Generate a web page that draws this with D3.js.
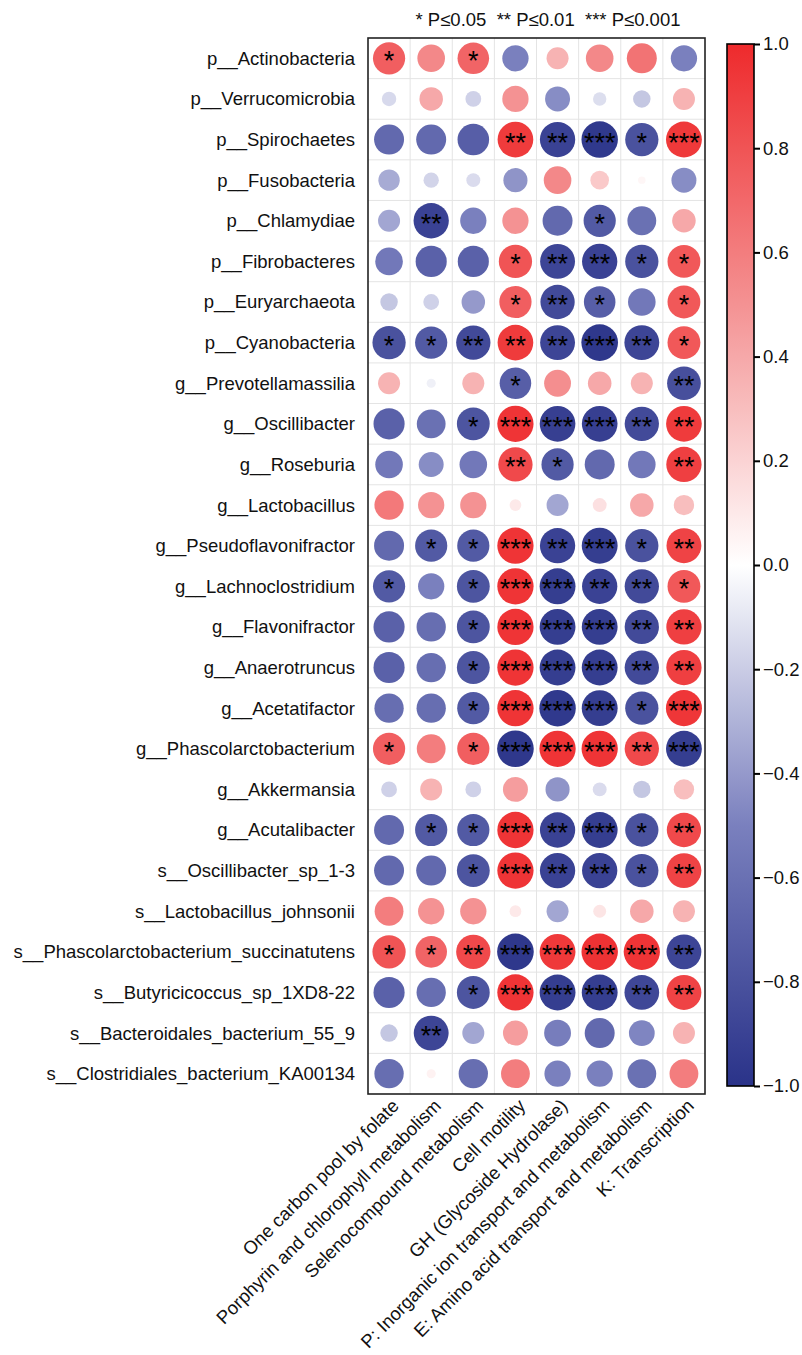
<!DOCTYPE html>
<html>
<head>
<meta charset="utf-8">
<script src="https://cdn.jsdelivr.net/npm/d3@7"></script>
<style>
  html, body { margin: 0; padding: 0; background: #fff; }
  svg { display: block; font-family: "Liberation Sans", Arial, Helvetica, sans-serif; }
</style>
</head>
<body>
<svg id="chart" width="802" height="1355"></svg>
<script>
// Functional pathways (columns)
const pathways = [
  "One carbon pool by folate",
  "Porphyrin and chlorophyll metabolism",
  "Selenocompound metabolism",
  "Cell motility",
  "GH (Glycoside Hydrolase)",
  "P: Inorganic ion transport and metabolism",
  "E: Amino acid transport and metabolism",
  "K: Transcription"
];

// Taxa (rows)
const taxa = [
  "p__Actinobacteria",
  "p__Verrucomicrobia",
  "p__Spirochaetes",
  "p__Fusobacteria",
  "p__Chlamydiae",
  "p__Fibrobacteres",
  "p__Euryarchaeota",
  "p__Cyanobacteria",
  "g__Prevotellamassilia",
  "g__Oscillibacter",
  "g__Roseburia",
  "g__Lactobacillus",
  "g__Pseudoflavonifractor",
  "g__Lachnoclostridium",
  "g__Flavonifractor",
  "g__Anaerotruncus",
  "g__Acetatifactor",
  "g__Phascolarctobacterium",
  "g__Akkermansia",
  "g__Acutalibacter",
  "s__Oscillibacter_sp_1-3",
  "s__Lactobacillus_johnsonii",
  "s__Phascolarctobacterium_succinatutens",
  "s__Butyricicoccus_sp_1XD8-22",
  "s__Bacteroidales_bacterium_55_9",
  "s__Clostridiales_bacterium_KA00134"
];

// Correlation coefficients, one row per taxon, one value per pathway
const correlations = [
  [ 0.75,  0.55,  0.72, -0.50,  0.35,  0.55,  0.65, -0.50],
  [-0.15,  0.40, -0.18,  0.50, -0.45, -0.13, -0.22,  0.35],
  [-0.65, -0.65, -0.72,  0.92, -0.90, -0.96, -0.80,  0.93],
  [-0.33, -0.17, -0.14, -0.42,  0.55,  0.25,  0.04, -0.45],
  [-0.35, -0.90, -0.50,  0.50, -0.65, -0.75, -0.60,  0.40],
  [-0.55, -0.70, -0.70,  0.80, -0.88, -0.90, -0.80,  0.78],
  [-0.22, -0.18, -0.40,  0.75, -0.85, -0.72, -0.55,  0.78],
  [-0.80, -0.75, -0.85,  0.92, -0.88, -0.97, -0.88,  0.78],
  [ 0.35, -0.06,  0.35, -0.72,  0.52,  0.40,  0.35, -0.82],
  [-0.70, -0.60, -0.78,  0.95, -0.92, -0.92, -0.85,  0.92],
  [-0.55, -0.45, -0.55,  0.85, -0.75, -0.65, -0.55,  0.90],
  [ 0.62,  0.50,  0.50,  0.10, -0.35,  0.14,  0.40,  0.30],
  [-0.65, -0.75, -0.75,  0.95, -0.90, -0.93, -0.80,  0.88],
  [-0.75, -0.50, -0.78,  0.95, -0.93, -0.90, -0.85,  0.78],
  [-0.70, -0.62, -0.78,  0.95, -0.93, -0.93, -0.85,  0.90],
  [-0.70, -0.62, -0.78,  0.95, -0.93, -0.93, -0.85,  0.90],
  [-0.62, -0.62, -0.75,  0.95, -0.96, -0.93, -0.80,  0.94],
  [ 0.75,  0.60,  0.75, -0.97,  0.95,  0.95,  0.85, -0.93],
  [-0.18,  0.35, -0.18,  0.45, -0.42, -0.14, -0.22,  0.30],
  [-0.65, -0.75, -0.75,  0.95, -0.90, -0.93, -0.80,  0.85],
  [-0.65, -0.65, -0.78,  0.95, -0.90, -0.90, -0.80,  0.88],
  [ 0.60,  0.50,  0.50,  0.10, -0.35,  0.12,  0.40,  0.35],
  [ 0.80,  0.72,  0.85, -0.97,  0.93,  0.96,  0.95, -0.88],
  [-0.70, -0.62, -0.78,  0.95, -0.93, -0.93, -0.87,  0.88],
  [-0.22, -0.88, -0.35,  0.45, -0.52, -0.65, -0.48,  0.35],
  [-0.62,  0.06, -0.62,  0.60, -0.50, -0.50, -0.60,  0.60]
];

// Significance marks (* P<=0.05, ** P<=0.01, *** P<=0.001)
const significance = [
  ["*",  "",   "*",  "",    "",    "",    "",   ""   ],
  ["",   "",   "",   "",    "",    "",    "",   ""   ],
  ["",   "",   "",   "**",  "**",  "***", "*",  "***"],
  ["",   "",   "",   "",    "",    "",    "",   ""   ],
  ["",   "**", "",   "",    "",    "*",   "",   ""   ],
  ["",   "",   "",   "*",   "**",  "**",  "*",  "*"  ],
  ["",   "",   "",   "*",   "**",  "*",   "",   "*"  ],
  ["*",  "*",  "**", "**",  "**",  "***", "**", "*"  ],
  ["",   "",   "",   "*",   "",    "",    "",   "**" ],
  ["",   "",   "*",  "***", "***", "***", "**", "**" ],
  ["",   "",   "",   "**",  "*",   "",    "",   "**" ],
  ["",   "",   "",   "",    "",    "",    "",   ""   ],
  ["",   "*",  "*",  "***", "**",  "***", "*",  "**" ],
  ["*",  "",   "*",  "***", "***", "**",  "**", "*"  ],
  ["",   "",   "*",  "***", "***", "***", "**", "**" ],
  ["",   "",   "*",  "***", "***", "***", "**", "**" ],
  ["",   "",   "*",  "***", "***", "***", "*",  "***"],
  ["*",  "",   "*",  "***", "***", "***", "**", "***"],
  ["",   "",   "",   "",    "",    "",    "",   ""   ],
  ["",   "*",  "*",  "***", "**",  "***", "*",  "**" ],
  ["",   "",   "*",  "***", "**",  "**",  "*",  "**" ],
  ["",   "",   "",   "",    "",    "",    "",   ""   ],
  ["*",  "*",  "**", "***", "***", "***", "***","**" ],
  ["",   "",   "*",  "***", "***", "***", "**", "**" ],
  ["",   "**", "",   "",    "",    "",    "",   ""   ],
  ["",   "",   "",   "",    "",    "",    "",   ""   ]
];

const legendText = "* P\u22640.05  ** P\u22640.01  *** P\u22640.001";
const colorbarTicks = [1.0, 0.8, 0.6, 0.4, 0.2, 0.0, -0.2, -0.4, -0.6, -0.8, -1.0];

// ---- layout ----
const svg = d3.select("#chart");
const grid = { left: 368, right: 705, top: 38, bottom: 1094 };
const bar = { left: 727, width: 27, top: 44, bottom: 1086 };

const x = d3.scaleBand().domain(pathways).range([grid.left, grid.right]);
const y = d3.scaleBand().domain(taxa).range([grid.top, grid.bottom]);
// diverging palette: dark blue -> white -> red
const color = d3.scaleLinear()
  .domain([-1, -0.5, 0, 0.5, 1])
  .range(["#2a3389", "#7a80be", "#ffffff", "#f49293", "#ee2a2c"])
  .interpolate(d3.interpolateRgb);
const radius = d3.scaleSqrt().domain([0, 1]).range([0, 18.6]);

// cells
const cells = [];
taxa.forEach((t, i) => pathways.forEach((p, j) => {
  cells.push({ taxon: t, pathway: p, r: correlations[i][j], sig: significance[i][j] });
}));

// grid lines
const gridG = svg.append("g");
gridG.selectAll("line.v").data(pathways.slice(1)).join("line")
  .attr("x1", d => x(d)).attr("x2", d => x(d))
  .attr("y1", grid.top).attr("y2", grid.bottom)
  .attr("stroke", "#e4e4e4").attr("stroke-width", 1);
gridG.selectAll("line.h").data(taxa.slice(1)).join("line")
  .attr("y1", d => y(d)).attr("y2", d => y(d))
  .attr("x1", grid.left).attr("x2", grid.right)
  .attr("stroke", "#e4e4e4").attr("stroke-width", 1);

// circles
svg.append("g").selectAll("circle").data(cells).join("circle")
  .attr("cx", d => x(d.pathway) + x.bandwidth() / 2)
  .attr("cy", d => y(d.taxon) + y.bandwidth() / 2)
  .attr("r", d => radius(Math.abs(d.r)))
  .attr("fill", d => color(d.r));

// significance stars
svg.append("g").selectAll("text").data(cells.filter(d => d.sig)).join("text")
  .attr("x", d => x(d.pathway) + x.bandwidth() / 2)
  .attr("y", d => y(d.taxon) + y.bandwidth() / 2 + 12)
  .attr("text-anchor", "middle")
  .attr("font-size", 27)
  .attr("fill", "#000")
  .text(d => d.sig);

// panel border
svg.append("rect")
  .attr("x", grid.left).attr("y", grid.top)
  .attr("width", grid.right - grid.left).attr("height", grid.bottom - grid.top)
  .attr("fill", "none").attr("stroke", "#222").attr("stroke-width", 1.6);

// row labels
svg.append("g").selectAll("text").data(taxa).join("text")
  .attr("x", 355)
  .attr("y", d => y(d) + y.bandwidth() / 2)
  .attr("dy", "0.35em")
  .attr("text-anchor", "end")
  .attr("font-size", 18.5)
  .attr("fill", "#111")
  .text(d => d);

// column labels (rotated)
svg.append("g").selectAll("text").data(pathways).join("text")
  .attr("transform", d => `translate(${x(d) + x.bandwidth() / 2 + 11},${grid.bottom + 13}) rotate(-45)`)
  .attr("text-anchor", "end")
  .attr("font-size", 18.5)
  .attr("fill", "#111")
  .text(d => d);

// legend of significance levels
svg.append("text")
  .attr("x", 548).attr("y", 26)
  .attr("text-anchor", "middle")
  .attr("font-size", 18.5)
  .attr("fill", "#111")
  .attr("xml:space", "preserve")
  .style("white-space", "pre")
  .text(legendText);

// colour bar
const cb = d3.scaleLinear().domain([-1, 1]).range([bar.bottom, bar.top]);
const defs = svg.append("defs");
const grad = defs.append("linearGradient").attr("id", "cbar")
  .attr("x1", 0).attr("y1", 1).attr("x2", 0).attr("y2", 0);
d3.range(-1, 1.0001, 0.1).forEach(v => {
  grad.append("stop").attr("offset", (v + 1) / 2).attr("stop-color", color(v));
});
svg.append("rect")
  .attr("x", bar.left).attr("y", bar.top)
  .attr("width", bar.width).attr("height", bar.bottom - bar.top)
  .attr("fill", "url(#cbar)")
  .attr("stroke", "#000").attr("stroke-width", 1.6);

const axis = d3.axisRight(cb).tickValues(colorbarTicks)
  .tickSize(6).tickPadding(3)
  .tickFormat(d => d3.format(".1f")(d).replace("-", "\u2212"));
const axG = svg.append("g")
  .attr("transform", `translate(${bar.left + bar.width},0)`)
  .call(axis);
axG.select(".domain").remove();
axG.selectAll(".tick line").attr("stroke", "#000").attr("stroke-width", 2);
axG.selectAll(".tick text")
  .attr("font-size", 18.5)
  .attr("font-family", "Liberation Sans, Arial, sans-serif")
  .attr("fill", "#111");
</script>
</body>
</html>
